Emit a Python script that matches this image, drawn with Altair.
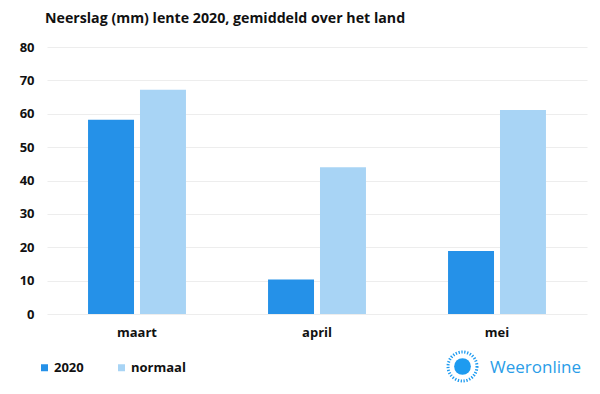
import altair as alt
import pandas as pd

months = ["maart", "april", "mei"]
series = ["2020", "normaal"]
values_2020 = [58.2, 10.3, 18.9]
values_normaal = [67.2, 44.0, 61.1]
colors = ["#2591E8", "#A8D4F5"]
y_ticks = [0, 10, 20, 30, 40, 50, 60, 70, 80]

rows = []
for m, a, b in zip(months, values_2020, values_normaal):
    rows.append({"maand": m, "reeks": "2020", "neerslag": a})
    rows.append({"maand": m, "reeks": "normaal", "neerslag": b})
df = pd.DataFrame(rows)

FONT = "Open Sans"

bars = alt.Chart(df).mark_bar().encode(
    x=alt.X("maand:N", sort=months, title=None,
            scale=alt.Scale(paddingInner=0.456, paddingOuter=0.228),
            axis=alt.Axis(labelAngle=0, labelFont=FONT, labelFontWeight="bold",
                          labelFontSize=13, labelColor="#111111", labelPadding=12,
                          ticks=False, domain=False, grid=False)),
    xOffset=alt.XOffset("reeks:N", sort=series,
                        scale=alt.Scale(paddingInner=0.115, paddingOuter=0)),
    y=alt.Y("neerslag:Q", title=None,
            scale=alt.Scale(domain=[0, 80], nice=False),
            axis=alt.Axis(values=y_ticks, labelFont=FONT, labelFontWeight="bold",
                          labelFontSize=13, labelColor="#111111", labelPadding=13,
                          ticks=False, domain=False, grid=True,
                          gridColor="#EDEDED", gridWidth=1)),
    color=alt.Color("reeks:N", sort=series,
                    scale=alt.Scale(domain=series, range=colors),
                    legend=alt.Legend(title=None, orient="none", direction="horizontal",
                                      legendX=-9, legendY=314,
                                      symbolType="square", symbolSize=49,
                                      symbolStrokeWidth=0,
                                      labelFont=FONT, labelFontWeight="bold",
                                      labelFontSize=13, labelColor="#111111",
                                      labelOffset=3, columnPadding=31)),
)

one = pd.DataFrame({"k": [0]})

sun = alt.Chart(one).mark_point(shape="circle", filled=True, color="#1E9BF0",
                                size=280, opacity=1).encode(
    x=alt.value(415.5), y=alt.value(319.5))
ring = alt.Chart(one).mark_point(shape="circle", filled=False, color="#1E9BF0",
                                 size=840, strokeWidth=3, strokeDash=[1.3, 1.6],
                                 opacity=1).encode(
    x=alt.value(415.5), y=alt.value(319.5))
brand = alt.Chart(one).mark_text(text="Weeronline", font=FONT, fontSize=17,
                                 color="#2A9DE8", align="left",
                                 baseline="middle").encode(
    x=alt.value(443), y=alt.value(320.5))

chart = alt.layer(bars, ring, sun, brand).properties(
    width=540, height=267,
    padding={"left": 39, "top": 39, "right": 5, "bottom": 72},
    autosize=alt.AutoSizeParams(type="none"),
    title=alt.TitleParams("Neerslag (mm) lente 2020, gemiddeld over het land",
                          anchor="start", frame="group", font=FONT, fontSize=14.2,
                          fontWeight="bold", color="#111111", dx=-2, offset=15),
).configure_view(stroke=None)

chart.save("out.html", embed_options={"renderer": "svg", "actions": False})
